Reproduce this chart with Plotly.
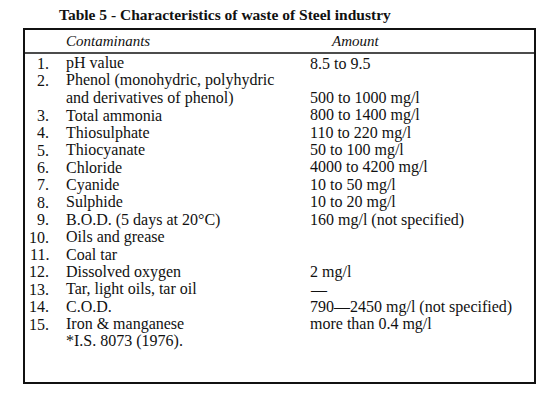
import plotly.graph_objects as go

title = "Table 5 - Characteristics of waste of Steel industry"
headers = ["Contaminants", "Amount"]
numbers = ["1.", "2.", "", "3.", "4.", "5.", "6.", "7.", "8.", "9.", "10.", "11.", "12.", "13.", "14.", "15.", ""]
contaminants = ["pH value", "Phenol (monohydric, polyhydric", "and derivatives of phenol)",
                "Total ammonia", "Thiosulphate", "Thiocyanate", "Chloride", "Cyanide", "Sulphide",
                "B.O.D. (5 days at 20°C)", "Oils and grease", "Coal tar", "Dissolved oxygen",
                "Tar, light oils, tar oil", "C.O.D.", "Iron & manganese", "*I.S. 8073 (1976)."]
amounts = ["8.5 to 9.5", "", "500 to 1000 mg/l", "800 to 1400 mg/l", "110 to 220 mg/l",
           "50 to 100 mg/l", "4000 to 4200 mg/l", "10 to 50 mg/l", "10 to 20 mg/l",
           "160 mg/l (not specified)", "", "", "2 mg/l", "—",
           "790—2450 mg/l (not specified)", "more than 0.4 mg/l", ""]

W, H = 560, 401
OX, OY = 8, 8  # page body offset
FONT = "Liberation Serif"
fig = go.Figure()
ann = []
ann.append(dict(x=57 - OX, y=14 - OY, text="<b>" + title + "</b>", xanchor="left", yanchor="middle",
                font=dict(family=FONT, size=15.5, color="#111")))
ann.append(dict(x=64 - OX, y=41 - OY, text="<i>" + headers[0] + "</i>", xanchor="left", yanchor="middle",
                font=dict(family=FONT, size=15, color="#111")))
ann.append(dict(x=355 - OX, y=41 - OY, text="<i>" + headers[1] + "</i>", xanchor="center", yanchor="middle",
                font=dict(family=FONT, size=15, color="#111")))
y0, dy = 63 - OY, 17.4
for i, (n, c, a) in enumerate(zip(numbers, contaminants, amounts)):
    y = y0 + i * dy
    if n:
        ann.append(dict(x=51 - OX, y=y, text=n, xanchor="right", yanchor="middle",
                        font=dict(family=FONT, size=16, color="#111")))
    ann.append(dict(x=64 - OX, y=y, text=c, xanchor="left", yanchor="middle",
                    font=dict(family=FONT, size=16, color="#111")))
    if a:
        ann.append(dict(x=308 - OX, y=y, text=a, xanchor="left", yanchor="middle",
                        font=dict(family=FONT, size=16, color="#111")))
for a in ann:
    a.update(xref="x", yref="y", showarrow=False)

shapes = [
    dict(type="rect", x0=24 - OX, x1=535 - OX, y0=29 - OY, y1=383 - OY, line=dict(color="#111", width=2)),
    dict(type="line", x0=24 - OX, x1=535 - OX, y0=53 - OY, y1=53 - OY, line=dict(color="#111", width=1.5)),
]
for s in shapes:
    s.update(xref="x", yref="y")

fig.update_layout(width=W, height=H, margin=dict(l=0, r=0, t=0, b=0),
                  paper_bgcolor="white", plot_bgcolor="white",
                  xaxis=dict(range=[0, W], visible=False, fixedrange=True),
                  yaxis=dict(range=[H, 0], visible=False, fixedrange=True),
                  annotations=ann, shapes=shapes, showlegend=False)
fig.write_html("out.html")
